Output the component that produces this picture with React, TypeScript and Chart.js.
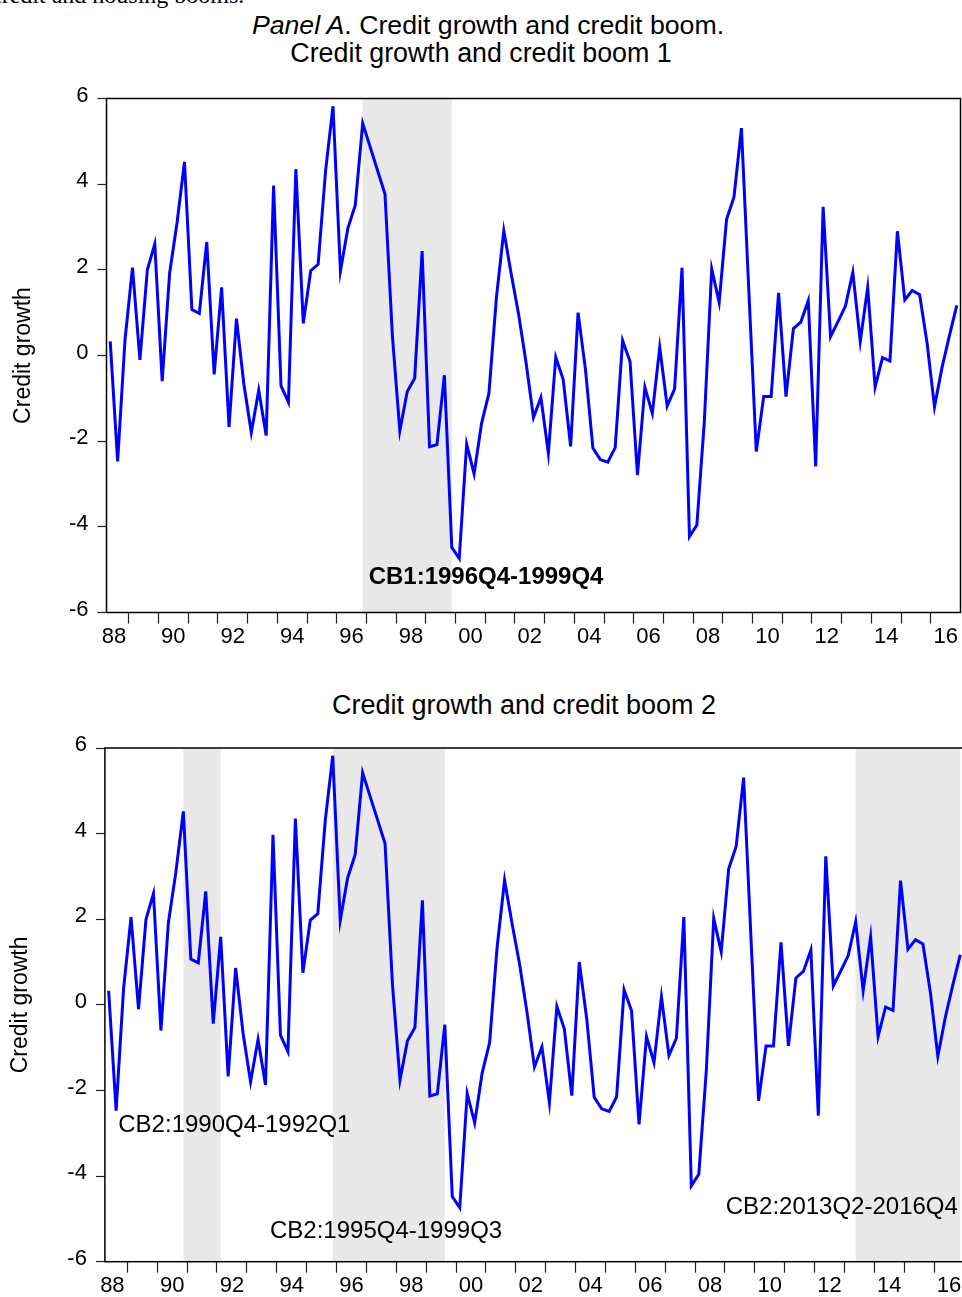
import React, { useEffect, useRef } from "react";
import { Chart, registerables } from "chart.js";

Chart.register(...registerables);

const SANS = '"Liberation Sans", Arial, Helvetica, sans-serif';

// ---- data -------------------------------------------------------------
const startYear = 1988;
const startQuarter = 2;

const creditGrowth = [
  0.33, -2.47, 0.38, 2.05, -0.1, 2.0, 2.6, -0.6, 1.92, 3.1,
  4.52, 1.07, 0.98, 2.65, -0.44, 1.59, -1.67, 0.86, -0.67, -1.8,
  -0.81, -1.87, 3.97, -0.71, -1.09, 4.35, 0.75, 1.98, 2.13, 4.31,
  5.82, 1.97, 2.97, 3.51, 5.42, 4.87, 4.32, 3.77, 0.46, -1.76,
  -0.84, -0.53, 2.44, -2.13, -2.08, -0.46, -4.48, -4.74, -2.07, -2.76,
  -1.59, -0.88, 1.34, 2.91, 1.9, 0.96, -0.17, -1.45, -0.98, -2.28,
  -0.04, -0.56, -2.12, 1.0, -0.33, -2.16, -2.43, -2.49, -2.15, 0.35,
  -0.14, -2.79, -0.74, -1.35, 0.19, -1.18, -0.78, 2.05, -4.23, -3.96,
  -1.55, 2.02, 1.24, 3.18, 3.7, 5.31, 1.5, -2.24, -0.96, -0.96,
  1.46, -0.96, 0.63, 0.78, 1.28, -2.59, 3.47, 0.44, 0.79, 1.15,
  1.94, 0.33, 1.59, -0.74, -0.05, -0.13, 2.9, 1.3, 1.52, 1.42,
  0.29, -1.2, -0.29, 0.46, 1.17,
];

const quarters = creditGrowth.map((_, i) => {
  const q = startQuarter - 1 + i;
  return `${startYear + Math.floor(q / 4)}Q${(q % 4) + 1}`;
});

const yearTickLabels = [
  "88", "90", "92", "94", "96", "98", "00", "02",
  "04", "06", "08", "10", "12", "14", "16",
];
const yTickValues = [-6, -4, -2, 0, 2, 4, 6];

const boomPeriods1 = [{ from: "1996Q4", to: "1999Q4" }];
const boomLabels1 = ["CB1:1996Q4-1999Q4"];

const boomPeriods2 = [
  { from: "1990Q4", to: "1992Q1" },
  { from: "1995Q4", to: "1999Q3" },
  { from: "2013Q2", to: "2016Q4" },
];
const boomLabels2 = ["CB2:1990Q4-1992Q1", "CB2:1995Q4-1999Q3", "CB2:2013Q2-2016Q4"];

// label anchors (x in observation index, y in data units)
const labelSpots1 = [{ x: 34.8, y: -5.17 }];
const labelSpots2 = [
  { x: 1.29, y: -2.82 },
  { x: 21.6, y: -5.28 },
  { x: 82.6, y: -4.73 },
];

// ---- panel ------------------------------------------------------------
type Period = { from: string; to: string };
type Spot = { x: number; y: number };

interface PanelProps {
  top: number;
  width: number;
  height: number;
  area: { left: number; right: number; top: number; bottom: number };
  periods: Period[];
  labels: string[];
  spots: Spot[];
  bold: boolean;
  titlePad: number;
}

function CreditPanel(props: PanelProps) {
  const ref = useRef<HTMLCanvasElement | null>(null);

  useEffect(() => {
    const canvas = ref.current;
    if (!canvas) return;
    const { width, height, area, periods, labels, spots, bold, titlePad } = props;
    const lastIdx = creditGrowth.length - 1;

    const boomPlugin = {
      id: "boomShading",
      beforeDatasetsDraw(chart: any) {
        const { ctx, chartArea, scales } = chart;
        const x = scales.x;
        ctx.save();
        ctx.fillStyle = "#e8e8e8";
        periods.forEach((p) => {
          const a = x.getPixelForValue(quarters.indexOf(p.from));
          const b = x.getPixelForValue(quarters.indexOf(p.to));
          ctx.fillRect(a, chartArea.top, b - a, chartArea.bottom - chartArea.top);
        });
        ctx.restore();
      },
      afterDatasetsDraw(chart: any) {
        const { ctx, chartArea, scales } = chart;
        ctx.save();
        ctx.fillStyle = "#000";
        ctx.textBaseline = "middle";
        ctx.textAlign = "left";
        ctx.font = `${bold ? "bold " : ""}24px ${SANS}`;
        labels.forEach((t, i) => {
          const s = spots[i];
          ctx.fillText(t, scales.x.getPixelForValue(s.x), scales.y.getPixelForValue(s.y));
        });
        ctx.strokeStyle = "#000";
        ctx.lineWidth = 1.5;
        ctx.strokeRect(
          chartArea.left,
          chartArea.top,
          chartArea.right - chartArea.left,
          chartArea.bottom - chartArea.top
        );
        ctx.restore();
      },
    };

    const chart = new Chart(canvas, {
      type: "line",
      data: {
        datasets: [
          {
            data: creditGrowth.map((v, i) => ({ x: i, y: v })),
            borderColor: "#0000ff",
            borderWidth: 3,
            pointRadius: 0,
            fill: false,
            tension: 0,
          },
        ],
      },
      options: {
        responsive: false,
        animation: false,
        devicePixelRatio: 1,
        layout: {
          padding: { left: 0, top: area.top, right: width - area.right, bottom: 0 },
        },
        plugins: { legend: { display: false }, tooltip: { enabled: false } },
        scales: {
          x: {
            type: "linear",
            min: -0.5,
            max: lastIdx + 0.5,
            afterBuildTicks: (s: any) => {
              const t: any[] = [];
              for (let v = 0.5; v <= lastIdx - 1.5; v += 2) t.push({ value: v });
              s.ticks = t;
            },
            afterFit: (s: any) => {
              s.height = height - area.bottom;
            },
            border: { display: false },
            grid: {
              drawOnChartArea: false,
              drawTicks: true,
              tickLength: 11,
              tickWidth: 1.2,
              tickColor: (c: any) => {
                const v = c.tick ? c.tick.value : 0;
                return (v - 2.5) % 4 === 0 ? "#222" : "rgba(0,0,0,0)";
              },
            },
            ticks: {
              autoSkip: false,
              maxRotation: 0,
              minRotation: 0,
              padding: 0,
              color: "#000",
              font: { family: SANS, size: 22 },
              callback: (value: any) => {
                const k = (Number(value) - 0.5) / 8;
                return Number.isInteger(k) && yearTickLabels[k] !== undefined ? yearTickLabels[k] : "";
              },
            },
          },
          y: {
            type: "linear",
            min: yTickValues[0],
            max: yTickValues[yTickValues.length - 1],
            afterBuildTicks: (s: any) => {
              s.ticks = yTickValues.map((v) => ({ value: v }));
            },
            afterFit: (s: any) => {
              s.width = area.left;
            },
            border: { display: false },
            grid: {
              drawOnChartArea: false,
              drawTicks: true,
              tickLength: 9,
              tickWidth: 1.2,
              tickColor: "#222",
            },
            ticks: {
              padding: 9,
              labelOffset: -3,
              color: "#000",
              font: { family: SANS, size: 22 },
              callback: (value: any) => String(value),
            },
            title: {
              display: true,
              text: "Credit growth",
              color: "#000",
              font: { family: SANS, size: 23 },
              padding: { top: titlePad, bottom: 0 },
            },
          },
        },
      },
      plugins: [boomPlugin],
    } as any);

    return () => chart.destroy();
  }, []);

  return (
    <canvas
      ref={ref}
      width={props.width}
      height={props.height}
      style={{
        position: "absolute",
        left: 0,
        top: props.top,
        width: props.width,
        height: props.height,
      }}
    />
  );
}

function CenterText(props: { cx: number; cy: number; children: any; size?: number }) {
  const size = props.size ?? 26.7;
  return (
    <div
      style={{
        position: "absolute",
        left: props.cx,
        top: props.cy - 15,
        height: 30,
        lineHeight: "30px",
        transform: "translateX(-50%)",
        whiteSpace: "nowrap",
        fontFamily: SANS,
        fontSize: size,
        color: "#000",
      }}
    >
      {props.children}
    </div>
  );
}

export default function App() {
  return (
    <div
      style={{
        position: "absolute",
        left: 0,
        top: 0,
        width: 962,
        height: 1297,
        overflow: "hidden",
        background: "#fff",
      }}
    >
      <div
        style={{
          position: "absolute",
          left: -9,
          top: -17,
          fontFamily: '"Liberation Serif", "Times New Roman", serif',
          fontSize: 24,
          lineHeight: "24px",
          whiteSpace: "nowrap",
          color: "#000",
        }}
      >
        credit and housing booms.
      </div>
      <CenterText cx={488} cy={25} size={26.7}>
        <i>Panel A</i>. Credit growth and credit boom.
      </CenterText>
      <CenterText cx={481} cy={53} size={26.8}>
        Credit growth and credit boom 1
      </CenterText>
      <CreditPanel
        top={0}
        width={962}
        height={670}
        area={{ left: 106.5, right: 960.5, top: 98.5, bottom: 612.5 }}
        periods={boomPeriods1}
        labels={boomLabels1}
        spots={labelSpots1}
        bold={true}
        titlePad={10}
      />
      <CenterText cx={524} cy={705} size={27}>
        Credit growth and credit boom 2
      </CenterText>
      <CreditPanel
        top={680}
        width={975}
        height={640}
        area={{ left: 104.9, right: 964, top: 68, bottom: 581.7 }}
        periods={boomPeriods2}
        labels={boomLabels2}
        spots={labelSpots2}
        bold={false}
        titlePad={7}
      />
    </div>
  );
}
